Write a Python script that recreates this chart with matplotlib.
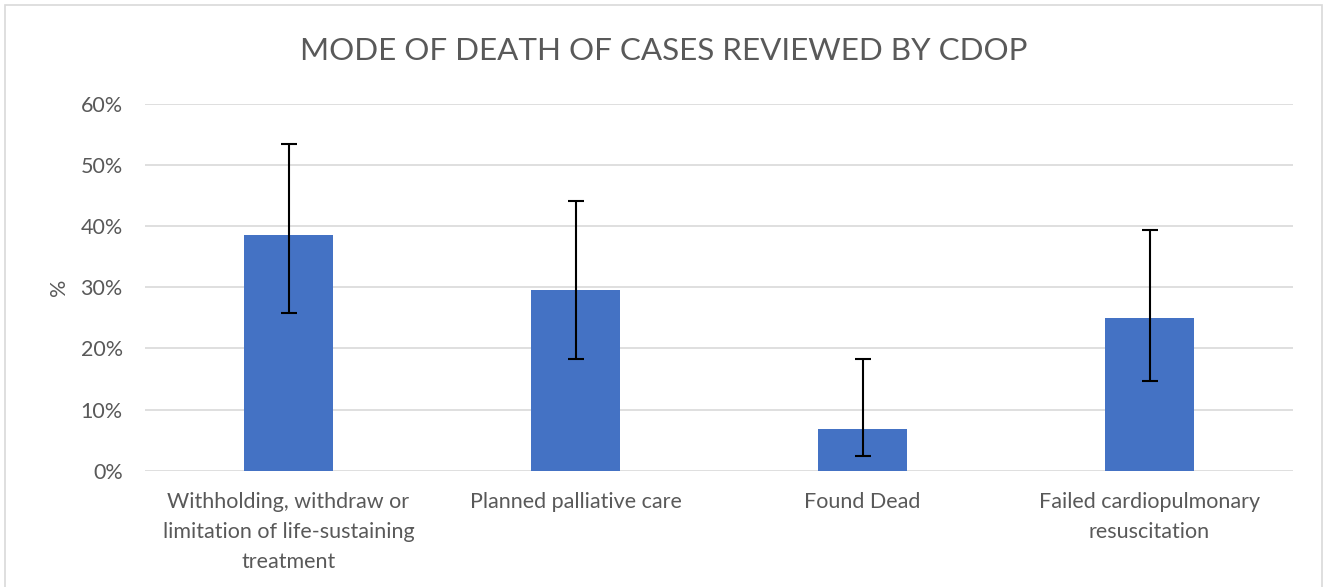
import matplotlib.pyplot as plt
from matplotlib.patches import Rectangle
from matplotlib.ticker import PercentFormatter

categories = ["Withholding, withdraw or\nlimitation of life-sustaining\ntreatment",
              "Planned palliative care",
              "Found Dead",
              "Failed cardiopulmonary\nresuscitation"]
values = [0.386, 0.296, 0.068, 0.250]
err_low = [0.258, 0.183, 0.024, 0.146]
err_high = [0.534, 0.442, 0.183, 0.394]

plt.rcParams['font.family'] = ['Lato', 'DejaVu Sans']
grey = '#595959'

fig = plt.figure(figsize=(13.27, 5.87), dpi=100)
fig.patches.append(Rectangle((5 / 1327, -0.01), 1317 / 1327, 1 - 5 / 587 + 0.01,
                             transform=fig.transFigure, fill=False,
                             edgecolor='#D9D9D9', linewidth=1.2))
ax = fig.add_axes([145 / 1327, 1 - 470.7 / 587, 1148 / 1327, (470.7 - 104) / 587])

x = range(len(categories))
yerr = [[v - lo for v, lo in zip(values, err_low)],
        [hi - v for v, hi in zip(values, err_high)]]
ax.bar(x, values, width=0.313, color='#4472C4', zorder=2)
ax.errorbar(x, values, yerr=yerr, fmt='none', ecolor='black', elinewidth=1.5,
            capsize=6, capthick=1.5, zorder=3)

ax.set_xlim(-0.5, len(categories) - 0.5)
ax.set_ylim(0, 0.6)
ax.set_yticks([0, 0.1, 0.2, 0.3, 0.4, 0.5, 0.6])
ax.yaxis.set_major_formatter(PercentFormatter(1.0, decimals=0))
ax.grid(axis='y', color='#D9D9D9', linewidth=1.2, zorder=0)
for s in ax.spines.values():
    s.set_visible(False)
ax.tick_params(length=0, labelsize=15.5, colors=grey, pad=16)
ax.tick_params(axis='x', pad=15)
ax.set_xticks(list(x))
ax.set_xticklabels(categories, linespacing=1.65)
ax.set_ylabel('%', fontsize=15.5, color=grey, labelpad=8)

fig.text(0.5, 1 - 51 / 587, 'MODE OF DEATH OF CASES REVIEWED BY CDOP',
         ha='center', va='center', fontsize=22.6, color=grey)

fig.savefig('out.png', dpi=100)
